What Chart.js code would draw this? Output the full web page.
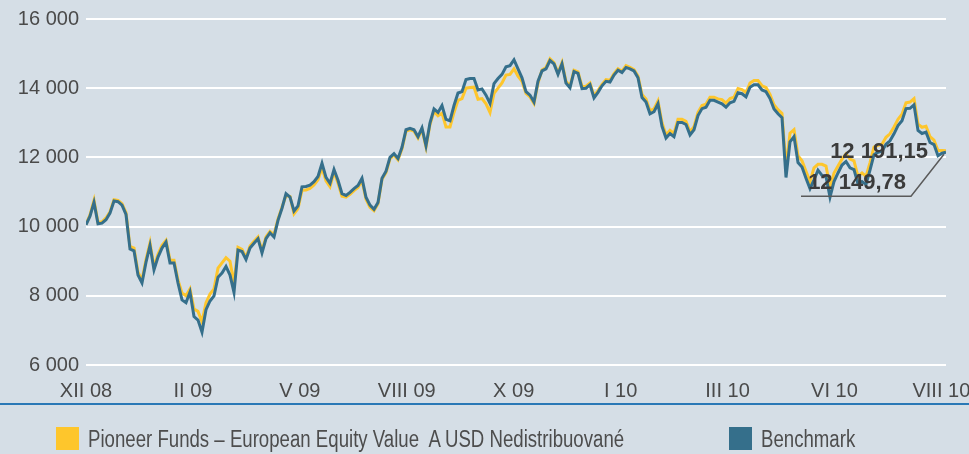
<!DOCTYPE html>
<html>
<head>
<meta charset="utf-8">
<script src="https://cdn.jsdelivr.net/npm/chart.js@4.4.1/dist/chart.umd.min.js"></script>
<style>
  html, body { margin: 0; padding: 0; background: #d5dee6; }
  #wrap { position: relative; width: 969px; height: 454px; background: #d5dee6; overflow: hidden; }
  #rule { position: absolute; left: 0; top: 403px; width: 969px; height: 2px; background: #2a78b6; }
  .leg { position: absolute; top: 427px; height: 23px; font-family: 'Liberation Sans Narrow', 'Liberation Sans', sans-serif; font-size: 23px; line-height: 23px; color: #4d4d4d; white-space: pre; }
  .leg .box { position: absolute; left: 0; top: 0; width: 23px; height: 23px; }
  .leg .txt { position: absolute; left: 32px; top: 1px; transform: scaleX(0.81); transform-origin: left center; }
</style>
</head>
<body>
<div id="wrap">
  <canvas id="chart" width="969" height="454"></canvas>
  <div id="rule"></div>
  <div id="legend"></div>
</div>
<script>
// x axis tick labels (evenly spaced along the period)
const xLabels = ['XII 08', 'II 09', 'V 09', 'VIII 09', 'X 09', 'I 10', 'III 10', 'VI 10', 'VIII 10'];

const seriesNames = ['Pioneer Funds – European Equity Value  A USD Nedistribuované', 'Benchmark'];
const seriesColors = ['#fec62c', '#356f8b'];

// end values written next to the lines
const endLabels = ['12 191,15', '12 149,78'];

const benchmark = [
  10050, 10300, 10700, 10080, 10100, 10200, 10390, 10740, 10720, 10620, 10350,
  9350, 9300, 8600, 8370, 8970, 9450, 8750, 9120, 9380, 9550, 8950, 8950, 8370,
  7880, 7800, 8110, 7400, 7300, 6950, 7600, 7850, 8000, 8540, 8660, 8850, 8600, 8100,
  9320, 9280, 9050, 9380, 9520, 9650, 9240, 9650, 9820, 9700, 10180, 10530, 10950, 10850,
  10450, 10600, 11150, 11160, 11200, 11300, 11450, 11830, 11420, 11250,
  11650, 11340, 10950, 10900, 10990, 11100, 11190, 11400, 10850, 10620, 10500, 10700,
  11400, 11600, 12000, 12110, 11970, 12290, 12800, 12840, 12800, 12600, 12850, 12340, 13000, 13400, 13300,
  13500, 13100, 13060, 13500, 13860, 13900, 14250, 14280, 14280, 13950, 13980, 13800, 13560, 14130, 14280,
  14400, 14620, 14650, 14820, 14560,
  14300, 13900, 13800, 13600, 14200,
  14500, 14560, 14800, 14700, 14400, 14700, 14150, 14010, 14480, 14430, 13990, 14000, 14100, 13720, 13880,
  14070, 14200, 14180, 14380, 14520, 14450, 14600, 14560, 14500, 14300,
  13730, 13600, 13260, 13320, 13550, 12900, 12560, 12690, 12600, 13010, 13010, 12950, 12650, 12800, 13210,
  13410, 13450, 13650, 13650, 13600,
  13550, 13450, 13580, 13620, 13870, 13840, 13750, 14030, 14100, 14100, 13950, 13900, 13700, 13400, 13260, 13150,
  11420, 12450, 12600, 11850, 11720, 11400, 11100, 11350, 11630, 11480, 11450, 10850, 11300, 11550, 11780, 11880,
  11700, 11650, 11230, 11300, 11220, 11630, 12080, 12150, 12180, 12380, 12480, 12680, 12920, 13060, 13410, 13420,
  13520, 12780, 12690, 12730, 12430, 12370, 12050, 12120, 12150
];

// Fund (A USD)
const fund = [
  10060, 10340, 10760, 10120, 10140, 10250, 10430, 10780, 10760, 10660, 10400,
  9430, 9380, 8680, 8450, 9050, 9530, 8830, 9200, 9460, 9600, 9030, 9030, 8450,
  8080, 8000, 8200, 7620, 7550, 7250, 7800, 8050, 8200, 8800, 8950, 9100, 9000, 8350,
  9400, 9340, 9110, 9440, 9580, 9700, 9300, 9700, 9860, 9760, 10220, 10560, 10900, 10870,
  10370, 10520, 11050, 11060, 11100, 11200, 11350, 11700, 11320, 11150,
  11580, 11260, 10880, 10850, 10930, 11040, 11130, 11330, 10790, 10560, 10460, 10660,
  11370, 11560, 11960, 12070, 11930, 12250, 12760, 12800, 12760, 12560, 12810, 12300, 12950, 13330, 13200,
  13280, 12880, 12880, 13300, 13650, 13700, 14000, 14020, 14030, 13680, 13700, 13550, 13300, 13850, 14000,
  14150, 14380, 14400, 14560, 14350,
  14200, 13850, 13750, 13560, 14150,
  14530, 14600, 14850, 14740, 14440, 14740, 14200, 14050, 14520, 14470, 14050, 14060, 14150, 13780, 13930,
  14110, 14250, 14230, 14420, 14560, 14490, 14650, 14600, 14540, 14350,
  13820, 13690, 13350, 13400, 13630, 13000, 12650, 12780, 12690, 13100, 13100, 13040, 12740, 12890, 13300,
  13500, 13540, 13740, 13740, 13690,
  13670, 13570, 13700, 13740, 13990, 13960, 13870, 14150, 14220, 14220, 14070, 14020, 13820, 13520, 13380, 13270,
  11700, 12700, 12800, 12050, 11900, 11600, 11300, 11700, 11800, 11800, 11750, 11150, 11550, 11750, 11950, 12100,
  11950, 11900, 11450, 11550, 11450, 11850, 12300, 12350, 12380, 12580, 12680, 12880, 13100, 13250, 13580, 13600,
  13700, 12960, 12870, 12900, 12600, 12500, 12200, 12200, 12191
];

const lastIndex = benchmark.length - 1;
const xTickStep = 26.73; // spacing of the month labels, in observations

const toPoints = arr => arr.map((v, i) => ({ x: i, y: v }));

function fmtThousands(v) {
  return String(v).replace(/\B(?=(\d{3})+(?!\d))/g, ' ');
}

// Build legend
const legendEl = document.getElementById('legend');
const legendLeft = [56, 729];
seriesNames.forEach((name, i) => {
  const item = document.createElement('div');
  item.className = 'leg';
  item.style.left = legendLeft[i] + 'px';
  item.innerHTML = `<div class="box" style="background:${seriesColors[i]}"></div><div class="txt"></div>`;
  item.querySelector('.txt').textContent = name;
  legendEl.appendChild(item);
});

// End value labels with leader line
const endLabelPlugin = {
  id: 'endLabels',
  afterDatasetsDraw(chart) {
    const ctx = chart.ctx;
    const xs = chart.scales.x, ys = chart.scales.y;
    const px = xs.getPixelForValue(lastIndex);
    const py = ys.getPixelForValue(benchmark[lastIndex]);
    ctx.save();
    ctx.strokeStyle = '#5a5a5a';
    ctx.lineWidth = 1.5;
    ctx.beginPath();
    ctx.moveTo(px - 2, py + 2);
    ctx.lineTo(px - 35, py + 44);
    ctx.lineTo(px - 145, py + 44);
    ctx.stroke();
    ctx.font = 'bold 22px "Liberation Sans", Arial, sans-serif';
    ctx.fillStyle = '#3b3b3b';
    ctx.textAlign = 'right';
    ctx.textBaseline = 'alphabetic';
    ctx.fillText(endLabels[0], px - 18, py + 6);
    ctx.fillText(endLabels[1], px - 40, py + 37);
    ctx.restore();
  }
};

const ctx = document.getElementById('chart').getContext('2d');
const chart = new Chart(ctx, {
  type: 'line',
  data: {
    datasets: [
      {
        label: seriesNames[0],
        data: toPoints(fund),
        borderColor: seriesColors[0],
        borderWidth: 3,
        pointRadius: 0,
        tension: 0,
        order: 2
      },
      {
        label: seriesNames[1],
        data: toPoints(benchmark),
        borderColor: seriesColors[1],
        borderWidth: 3,
        pointRadius: 0,
        tension: 0,
        order: 1
      }
    ]
  },
  options: {
    responsive: false,
    animation: false,
    devicePixelRatio: 1,
    layout: { padding: { top: 18, right: 23, bottom: 49, left: 0 } },
    plugins: { legend: { display: false }, tooltip: { enabled: false } },
    scales: {
      x: {
        type: 'linear',
        min: 0,
        max: lastIndex,
        grid: { display: false, drawTicks: false },
        border: { display: false },
        afterFit(scale) {
          scale.height = 40;
          scale.paddingLeft = 0;
          scale.paddingRight = 0;
        },
        afterBuildTicks(scale) {
          scale.ticks = xLabels.map((_, k) => ({ value: k * xTickStep }));
        },
        ticks: {
          autoSkip: false,
          maxRotation: 0,
          padding: 14,
          color: '#4a4a4a',
          font: { family: '"Liberation Sans", Arial, sans-serif', size: 20 },
          callback: (value, index) => xLabels[index]
        }
      },
      y: {
        min: 6000,
        max: 16000,
        grid: { color: '#ffffff', lineWidth: 2, drawTicks: false },
        border: { display: false },
        afterFit(scale) { scale.width = 86; },
        ticks: {
          stepSize: 2000,
          padding: 7,
          color: '#4a4a4a',
          font: { family: '"Liberation Sans", Arial, sans-serif', size: 20 },
          callback: v => fmtThousands(v)
        }
      }
    }
  },
  plugins: [endLabelPlugin]
});
</script>
</body>
</html>
